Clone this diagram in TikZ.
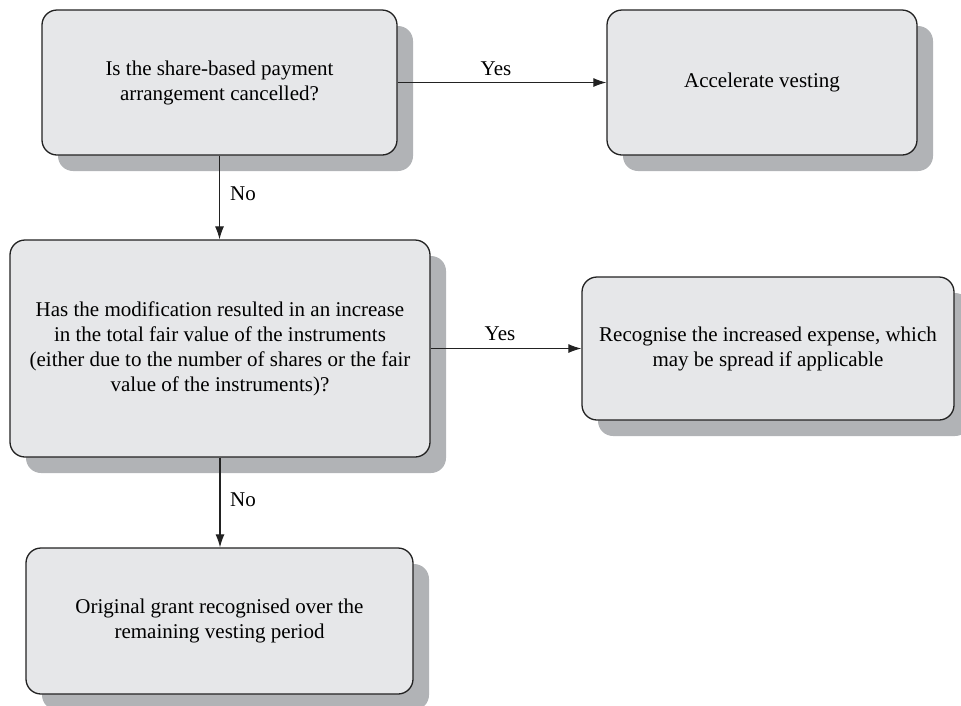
\documentclass[tikz,border=0pt]{standalone}
\usepackage{fontspec}
\setmainfont{Liberation Serif}
\usetikzlibrary{arrows.meta,shadows}
\definecolor{boxfill}{HTML}{E6E7E9}
\definecolor{boxshade}{HTML}{B1B3B6}
\definecolor{boxline}{HTML}{222222}

\begin{document}
\begin{tikzpicture}[x=1pt, y=-1pt,
	stepbox/.style={draw=boxline, line width=1.3pt, fill=boxfill, rounded corners=15pt,
		align=center, inner sep=0pt, font=\fontsize{21}{25}\selectfont,
		drop shadow={shadow xshift=16pt, shadow yshift=-16pt, fill=boxshade, opacity=1}},
	flow/.style={line width=1.1pt, draw=boxline, -{Latex[length=13pt,width=9pt]}},
	answer/.style={font=\fontsize{21}{25}\selectfont, inner sep=0pt}]
	%%%%% START %%%%%
	
	\useasboundingbox (0,0) rectangle (961,705);
	
	\node[stepbox, minimum width=355pt, minimum height=145pt] (cancelled) at (219.5, 82.5)
		{Is the share-based payment\\arrangement cancelled?};
	\node[stepbox, minimum width=310pt, minimum height=145pt] (accelerate) at (762, 82.5)
		{Accelerate vesting};
	
	\node[stepbox, minimum width=420pt, minimum height=217pt] (increase) at (220, 348.5)
		{Has the modification resulted in an increase\\in the total fair value of the instruments\\(either due to the number of shares or the fair\\value of the instruments)?};
	\node[stepbox, minimum width=372pt, minimum height=143pt] (expense) at (768, 348.5)
		{Recognise the increased expense, which\\may be spread if applicable};
	
	\node[stepbox, minimum width=387pt, minimum height=146pt] (original) at (219.5, 621)
		{Original grant recognised over the\\remaining vesting period};
	
	\draw[flow] (cancelled.east) -- (accelerate.west);
	\draw[flow] (cancelled.south) -- (cancelled.south |- increase.north);
	\draw[flow] (increase.east) -- (expense.west);
	\draw[flow] (increase.south) -- (increase.south |- original.north);
	
	\node[answer] (yes1) at (496, 69) {Yes};
	\node[answer] (no1) at (243, 194) {No};
	\node[answer] (yes2) at (500, 334) {Yes};
	\node[answer] (no2) at (243, 500) {No};
	
	%%%%% END %%%%%
\end{tikzpicture}
\end{document}
